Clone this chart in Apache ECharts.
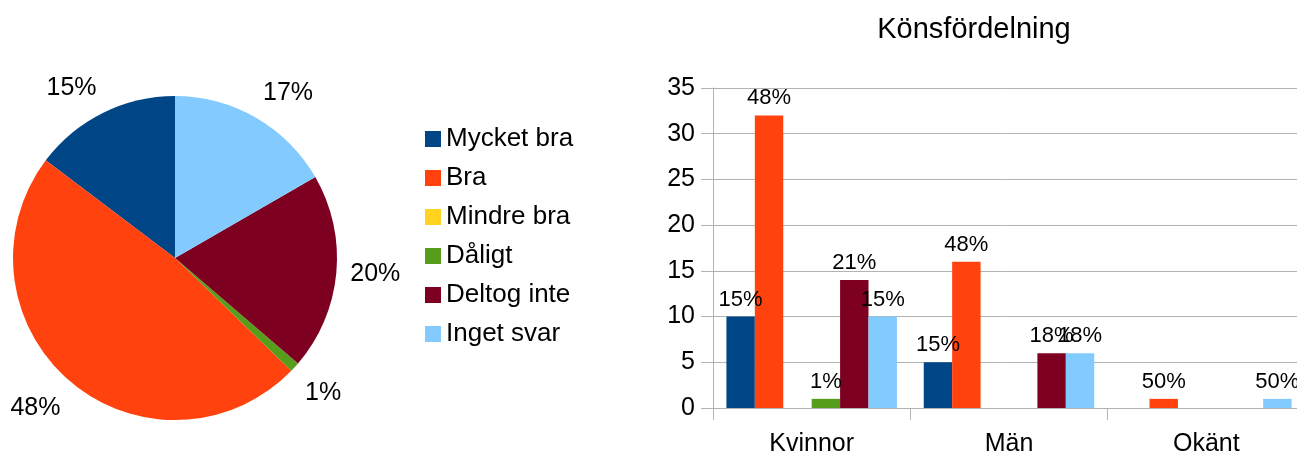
<!DOCTYPE html>
<html>
<head>
<meta charset="utf-8">
<script src="https://cdn.jsdelivr.net/npm/echarts@6/dist/echarts.min.js"></script>
<style>
  html, body { margin: 0; padding: 0; background: #fff; }
  #chart { width: 1297px; height: 457px; }
</style>
</head>
<body>
<div id="chart"></div>
<script>
// answer categories (legend + pie slices)
var answers = ['Mycket bra', 'Bra', 'Mindre bra', 'Dåligt', 'Deltog inte', 'Inget svar'];
var colors = ['#004586', '#ff420e', '#ffd320', '#579d1c', '#7e0021', '#83caff'];

// pie totals
var totals = [15, 49, 0, 1, 20, 17];

// bar chart: gender groups
var groups = ['Kvinnor', 'Män', 'Okänt'];
var mycketBra = [10, 5, 0];
var bra = [32, 16, 1];
var mindreBra = [0, 0, 0];
var daligt = [1, 0, 0];
var deltogInte = [14, 6, 0];
var ingetSvar = [10, 6, 1];
var barSeries = [mycketBra, bra, mindreBra, daligt, deltogInte, ingetSvar];

var yTicks = { min: 0, max: 35, interval: 5 };

var font = 'Liberation Sans, Arial, sans-serif';
var pieCenter = [175, 258];
var pieRadius = 162;

var groupSum = groups.map(function (g, i) {
    return barSeries.reduce(function (s, arr) { return s + arr[i]; }, 0);
});
var pieSum = totals.reduce(function (a, b) { return a + b; }, 0);

// place pie labels office-style: anchored just outside the slice middle,
// box corner facing the pie
function pieLabelLayout(params) {
    var before = 0;
    for (var i = 0; i < params.dataIndex; i++) before += totals[i];
    var mid = (before + totals[params.dataIndex] / 2) / pieSum * Math.PI * 2;
    // counter-clockwise from the top
    var ux = -Math.sin(mid), uy = -Math.cos(mid);
    var r = pieRadius + 14;
    var vAlign = Math.abs(uy) < 0.38 ? 'middle' : (uy > 0 ? 'top' : 'bottom');
    return {
        x: pieCenter[0] + ux * r,
        y: pieCenter[1] + uy * r + (vAlign === 'top' ? 4 : 0),
        align: Math.abs(ux) < 0.38 ? 'center' : (ux > 0 ? 'left' : 'right'),
        verticalAlign: vAlign
    };
}

var myChart = echarts.init(document.getElementById('chart'));

var series = [{
    type: 'pie',
    center: pieCenter,
    radius: pieRadius,
    startAngle: 90,
    clockwise: false,
    avoidLabelOverlap: false,
    label: {
        position: 'outside',
        fontSize: 25,
        fontFamily: font,
        color: '#000',
        formatter: function (p) {
            return p.value ? Math.round(p.percent) + '%' : '';
        }
    },
    labelLine: { show: false },
    labelLayout: pieLabelLayout,
    emphasis: { disabled: true },
    data: answers.map(function (name, i) {
        return { name: name, value: totals[i], itemStyle: { color: colors[i] } };
    })
}];

barSeries.forEach(function (arr, k) {
    series.push({
        type: 'bar',
        name: answers[k],
        data: arr,
        itemStyle: { color: colors[k] },
        barGap: 0,
        barCategoryGap: '13.6%',
        label: {
            show: true,
            position: 'top',
            distance: 6,
            fontSize: 22,
            fontFamily: font,
            color: '#000',
            formatter: function (p) {
                if (!p.value) return '';
                return Math.round(p.value / groupSum[p.dataIndex] * 100) + '%';
            }
        }
    });
});

myChart.setOption({
    animation: false,
    textStyle: { fontFamily: font },
    title: {
        text: 'Könsfördelning',
        left: 969,
        top: 10,
        textAlign: 'center',
        textStyle: { fontSize: 29, fontWeight: 'normal', color: '#000', fontFamily: font }
    },
    legend: {
        orient: 'vertical',
        left: 420,
        top: 121,
        icon: 'rect',
        itemWidth: 16,
        itemHeight: 16,
        itemGap: 13,
        selectedMode: false,
        data: answers,
        textStyle: { fontSize: 26, color: '#000', fontFamily: font }
    },
    grid: { left: 713, right: -8, top: 88, bottom: 49, outerBoundsMode: 'none' },
    xAxis: {
        type: 'category',
        data: groups,
        axisLine: { lineStyle: { color: '#b3b3b3' } },
        axisTick: { show: true, length: 12, interval: 0, lineStyle: { color: '#b3b3b3' } },
        axisLabel: { fontSize: 25, color: '#000', margin: 24, fontFamily: font }
    },
    yAxis: {
        type: 'value',
        min: yTicks.min,
        max: yTicks.max,
        interval: yTicks.interval,
        axisLine: { show: true, lineStyle: { color: '#b3b3b3' } },
        axisTick: { show: true, length: 12, lineStyle: { color: '#b3b3b3' } },
        splitLine: { lineStyle: { color: '#b3b3b3' } },
        axisLabel: { fontSize: 25, color: '#000', margin: 18, fontFamily: font }
    },
    series: series
});
</script>
</body>
</html>
